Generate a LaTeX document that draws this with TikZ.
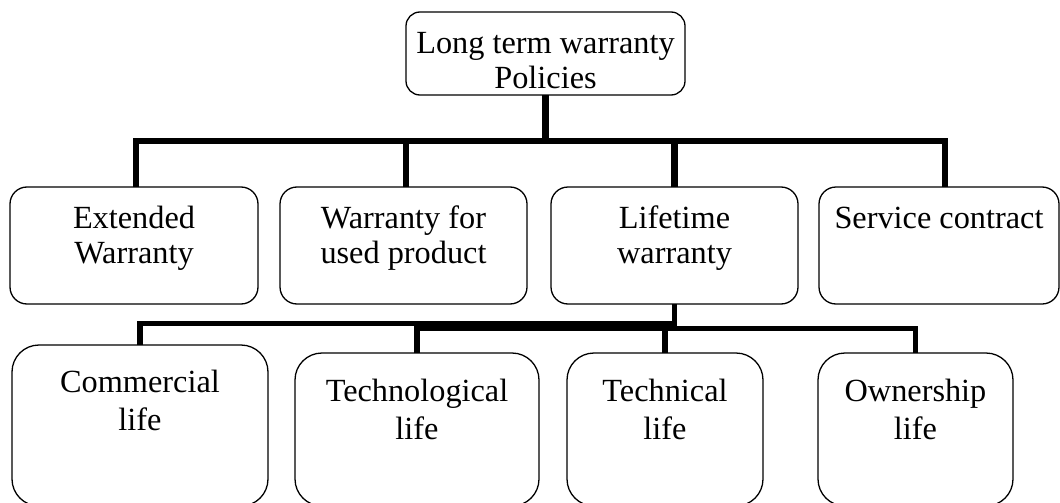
\documentclass[tikz,border=0pt]{standalone}
\usepackage{fontspec}
\setmainfont{Liberation Serif}
\begin{document}
\begin{tikzpicture}[x=1pt,y=-1pt,
  box/.style={draw, line width=1.3pt, rounded corners=17pt, inner sep=0pt, outer sep=0pt},
  lbox/.style={box, rounded corners=27pt},
  lbl/.style={anchor=base, inner sep=0pt, font=\fontsize{32.3}{35.5}\selectfont},
  lbltwo/.style={anchor=base, inner sep=0pt, font=\fontsize{32.3}{38.5}\selectfont},
  bus/.style={line width=6.5pt},
  sbus/.style={line width=5.5pt}]
\useasboundingbox (0,0) rectangle (1060,503);
% boxes
\node[box, rounded corners=14pt, minimum width=279pt, minimum height=83pt] (top) at (545.5,53.5) {};
\node[box, minimum width=248pt, minimum height=117pt] (ew) at (134,245.5) {};
\node[box, minimum width=247pt, minimum height=117pt] (wu) at (403.5,245.5) {};
\node[box, minimum width=247pt, minimum height=117pt] (lw) at (674.5,245.5) {};
\node[box, minimum width=240pt, minimum height=117pt] (sc) at (939,245.5) {};
\node[lbox, minimum width=256pt, minimum height=161pt] (cm) at (140,425.5) {};
\node[lbox, minimum width=244pt, minimum height=153pt] (tg) at (417,429.5) {};
\node[lbox, minimum width=196pt, minimum height=153pt] (tc) at (665,429.5) {};
\node[lbox, minimum width=195pt, minimum height=153pt] (ow) at (915.5,429.5) {};
% labels
\node[lbl] (ttop) at (545.5,53) {\begin{tabular}[t]{@{}c@{}}Long term warranty\\Policies\end{tabular}};
\node[lbl] (tew) at (134,228) {\begin{tabular}[t]{@{}c@{}}Extended\\Warranty\end{tabular}};
\node[lbl] (twu) at (403.5,228) {\begin{tabular}[t]{@{}c@{}}Warranty for\\used product\end{tabular}};
\node[lbl] (tlw) at (674.5,228) {\begin{tabular}[t]{@{}c@{}}Lifetime\\warranty\end{tabular}};
\node[lbl] (tsc) at (939,228) {Service contract};
\node[lbltwo] (tcm) at (140,392) {\begin{tabular}[t]{@{}c@{}}Commercial\\life\end{tabular}};
\node[lbltwo] (ttg) at (417,401) {\begin{tabular}[t]{@{}c@{}}Technological\\life\end{tabular}};
\node[lbltwo] (ttc) at (665,401) {\begin{tabular}[t]{@{}c@{}}Technical\\life\end{tabular}};
\node[lbltwo] (tow) at (915.5,401) {\begin{tabular}[t]{@{}c@{}}Ownership\\life\end{tabular}};
% connectors, first level
\coordinate (busT) at (545.5,141);
\draw[bus] (top.south) -- (busT);
\draw[bus] ([xshift=2pt]ew.north) -- ([xshift=2pt]ew.north |- busT) -- ([xshift=6pt]sc.north |- busT) -- ([xshift=6pt]sc.north);
\draw[bus] ([xshift=2.5pt]wu.north) -- ([xshift=2.5pt]wu.north |- busT);
\draw[bus] (lw.north) -- (lw.north |- busT);
% connectors, second level
\coordinate (busA) at (0,323.5);
\coordinate (busB) at (0,328.5);
\draw[sbus] (cm.north) -- (cm.north |- busA) -- (lw.south |- busA);
\draw[sbus] (lw.south) -- ([yshift=-2.5pt]lw.south |- busB);
\draw[sbus] (tg.north) -- (tg.north |- busB) -- (ow.north |- busB) -- (ow.north);
\draw[sbus] (tc.north) -- (tc.north |- busB);
\end{tikzpicture}
\end{document}
